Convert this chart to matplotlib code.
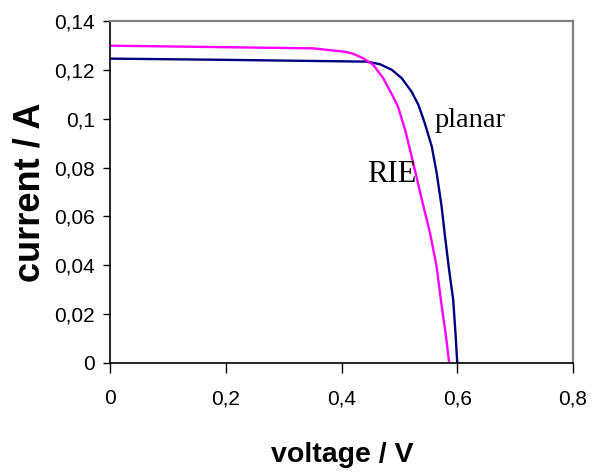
import matplotlib
matplotlib.use("Agg")
import matplotlib.pyplot as plt
from matplotlib.ticker import FuncFormatter

# Data
planar_v = [0.0, 0.2, 0.432, 0.4435, 0.4665, 0.487, 0.504, 0.521, 0.533, 0.544,
            0.556, 0.5645, 0.573, 0.579, 0.586, 0.593, 0.597, 0.600]
planar_i = [0.1246, 0.1241, 0.1234, 0.1234, 0.1223, 0.1200, 0.1166, 0.1111, 0.1056,
            0.0981, 0.0886, 0.0777, 0.0640, 0.0515, 0.0380, 0.0258, 0.0120, 0.0]

rie_v = [0.0, 0.351, 0.406, 0.42, 0.438, 0.455, 0.472, 0.487, 0.4975, 0.510, 0.524,
         0.539, 0.553, 0.564, 0.573, 0.580, 0.586]
rie_i = [0.1299, 0.1288, 0.1274, 0.1266, 0.1247, 0.1220, 0.1166, 0.1100, 0.1050,
         0.0954, 0.0818, 0.0667, 0.0531, 0.0400, 0.0235, 0.0120, 0.0]

x_ticks = [0, 0.2, 0.4, 0.6, 0.8]
y_ticks = [0, 0.02, 0.04, 0.06, 0.08, 0.1, 0.12, 0.14]

sans = "Liberation Sans"
serif = "Liberation Serif"

fig = plt.figure(figsize=(5.95, 4.72), dpi=100)
ax = fig.add_axes([110 / 595, 1 - 363 / 472, (573 - 110) / 595, (363 - 21) / 472])

ax.plot(planar_v, planar_i, color="#000080", lw=1.7, solid_joinstyle="round")
ax.plot(rie_v, rie_i, color="#FF00FF", lw=1.7, solid_joinstyle="round")

ax.set_xlim(0, 0.8)
ax.set_ylim(0, 0.14)
ax.set_xticks(x_ticks)
ax.set_yticks(y_ticks)


def comma_fmt(v, pos):
    s = ("%.2f" % v).rstrip("0").rstrip(".")
    return s.replace(".", ",")


ax.xaxis.set_major_formatter(FuncFormatter(comma_fmt))
ax.yaxis.set_major_formatter(FuncFormatter(comma_fmt))

for lab in ax.get_xticklabels() + ax.get_yticklabels():
    lab.set_fontfamily(sans)
    lab.set_fontsize(15)

ax.tick_params(axis="x", direction="out", length=7, width=1, pad=12, colors="black")
ax.tick_params(axis="y", direction="out", length=5, width=1, pad=6, colors="black")

for side in ("left", "bottom"):
    ax.spines[side].set_color("black")
    ax.spines[side].set_linewidth(1.2)
for side in ("top", "right"):
    ax.spines[side].set_color("#808080")
    ax.spines[side].set_linewidth(1.6)

fig.text(342 / 595, 1 - 462 / 472, "voltage / V", fontfamily=sans, fontweight="bold",
         fontsize=20.5, ha="center", va="baseline")
fig.text(30 / 595, 1 - 192 / 472, "current / A", fontfamily=sans, fontweight="bold",
         fontsize=26, ha="center", va="center", rotation=90)

ax.text(0.560, 0.0966, "planar", fontfamily=serif, fontsize=20.5, ha="left", va="baseline")
ax.text(0.444, 0.0741, "RIE", fontfamily=serif, fontsize=22, ha="left", va="baseline")

fig.savefig("out.png", dpi=100)
